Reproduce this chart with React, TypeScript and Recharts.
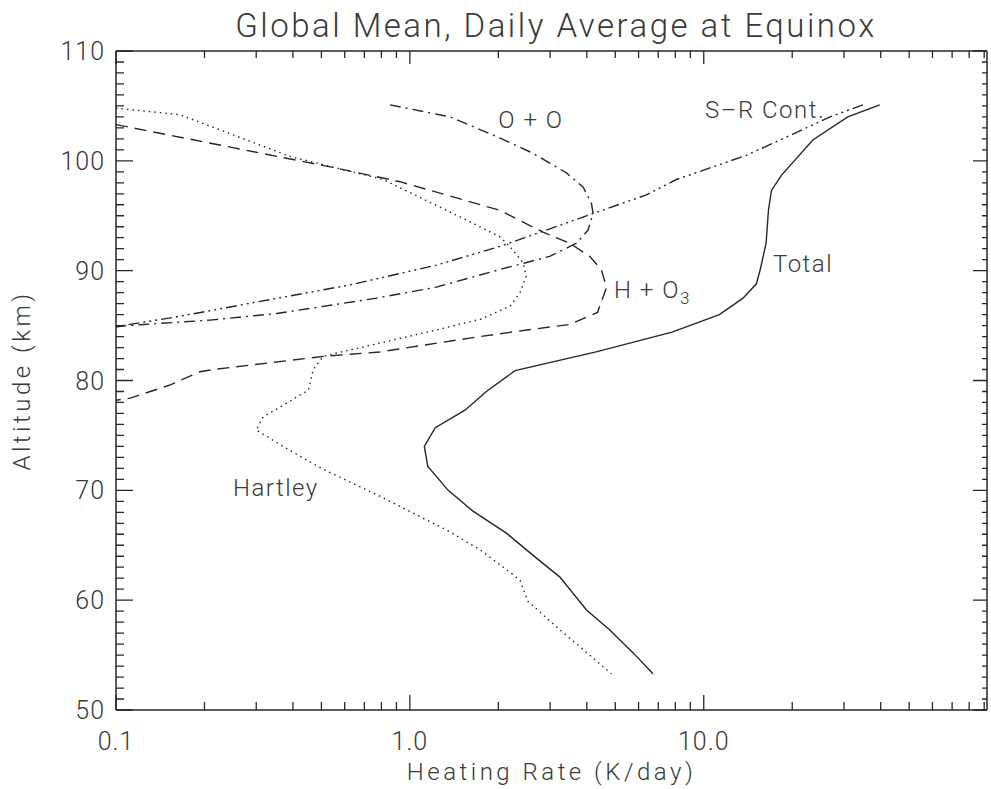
import React from 'react';
import { LineChart, Line, XAxis, YAxis, ReferenceDot } from 'recharts';

const INK = '#262626';
const TEXT = '#3a3a3a';
const FONT = 'Roboto, "DejaVu Sans", sans-serif';

const W = 991;
const H = 789;
const MARGIN = { top: 50, right: 3, left: 0, bottom: 0 };
const Y_AXIS_W = 116;
const X_AXIS_H = 79;
const PLOT_W = W - MARGIN.left - MARGIN.right - Y_AXIS_W - 1;
const PLOT_H = H - MARGIN.top - MARGIN.bottom - X_AXIS_H - 1;

// heating rate (K/day) vs altitude (km), traced top to bottom along each curve
const totalAlt = [105.1, 104.0, 101.9, 98.7, 97.3, 95.5, 92.5, 90.2, 88.8, 87.5, 86.0, 84.4, 82.6, 80.9, 79.0, 77.3, 75.7, 74.0, 72.2, 70.0, 68.1, 66.1, 64.1, 62.1, 59.1, 57.3, 55.2, 53.3];
const totalRate = [39.7, 30.9, 23.5, 18.4, 17.0, 16.6, 16.3, 15.6, 15.1, 13.6, 11.3, 7.8, 4.3, 2.28, 1.82, 1.54, 1.22, 1.12, 1.15, 1.35, 1.64, 2.13, 2.62, 3.24, 3.99, 4.78, 5.75, 6.72];

const hartleyAlt = [104.8, 104.2, 100.4, 98.3, 94.9, 93.1, 92.2, 90.7, 89.5, 88.0, 86.8, 85.6, 84.6, 83.4, 82.5, 82.2, 81.0, 79.1, 76.7, 75.5, 74.0, 72.0, 69.4, 66.4, 64.6, 62.3, 61.8, 59.9, 57.3, 53.3];
const hartleyRate = [0.1, 0.165, 0.391, 0.811, 1.48, 2.02, 2.19, 2.43, 2.49, 2.37, 2.2, 1.75, 1.23, 0.79, 0.564, 0.507, 0.469, 0.451, 0.317, 0.30, 0.37, 0.50, 0.80, 1.33, 1.73, 2.25, 2.37, 2.52, 3.24, 4.85];

const hO3Alt = [103.3, 101.2, 99.4, 98.1, 95.5, 93.5, 92.5, 91.3, 90.1, 88.5, 86.2, 85.1, 84.6, 84.0, 82.6, 82.2, 81.0, 80.8, 79.6, 78.4, 78.2];
const hO3Rate = [0.1, 0.25, 0.547, 0.925, 2.02, 2.84, 3.5, 4.09, 4.48, 4.67, 4.35, 3.5, 2.5, 1.73, 0.79, 0.51, 0.214, 0.193, 0.153, 0.112, 0.1];

const ooAlt = [105.1, 104.0, 102.1, 100.7, 98.9, 97.6, 96.1, 95.2, 93.7, 92.5, 91.3, 90.7, 90.1, 88.5, 87.5, 86.1, 85.5, 85.1, 84.9];
const ooRate = [0.855, 1.37, 2.02, 2.62, 3.41, 3.89, 4.15, 4.2, 4.04, 3.69, 2.99, 2.46, 2.02, 1.23, 0.77, 0.352, 0.209, 0.124, 0.1];

const srAlt = [105.1, 104.0, 101.9, 100.5, 98.3, 96.9, 95.2, 92.2, 90.5, 88.7, 87.2, 85.8, 84.9];
const srRate = [34.8, 26.9, 18.2, 13.96, 8.07, 6.38, 4.2, 2.02, 1.23, 0.625, 0.309, 0.161, 0.1];

const xTicks = [0.1, 0.2, 0.3, 0.4, 0.5, 0.6, 0.7, 0.8, 0.9, 1, 2, 3, 4, 5, 6, 7, 8, 9, 10, 20, 30, 40, 50, 60, 70, 80, 90];
const xMajor = [0.1, 1, 10];
const xLabels = ['0.1', '1.0', '10.0'];
const yMajor = [50, 60, 70, 80, 90, 100, 110];
const yTicks = Array.from({ length: 61 }, (_, i) => 50 + i);

const notes = [
  { text: 'O + O', rate: 2.0, alt: 103.0 },
  { text: 'S\u2013R Cont.', rate: 10.1, alt: 103.9 },
  { text: 'Total', rate: 17.2, alt: 89.9 },
  { text: 'H + O', sub: '3', rate: 4.95, alt: 87.5 },
  { text: 'Hartley', rate: 0.25, alt: 69.5 },
];

const toPoints = (rate: number[], alt: number[]) => rate.map((r, i) => ({ rate: r, alt: alt[i] }));

const series = [
  { name: 'Total', data: toPoints(totalRate, totalAlt), dash: undefined },
  { name: 'Hartley', data: toPoints(hartleyRate, hartleyAlt), dash: '1.5 4' },
  { name: 'H + O3', data: toPoints(hO3Rate, hO3Alt), dash: '12 7' },
  { name: 'O + O', data: toPoints(ooRate, ooAlt), dash: '11 5 2 5' },
  { name: 'S-R Cont.', data: toPoints(srRate, srAlt), dash: '11 4 2 4 2 4 2 4' },
];

const isMajorX = (v: number) => xMajor.some((m) => Math.abs(m - v) < 1e-9);
const tickText = { fontFamily: FONT, fontSize: 25, fontWeight: 300, fill: TEXT, letterSpacing: 1 } as const;

// bottom tick also draws its mirror on the top frame
const BottomTick = ({ x, y, payload }: any) => {
  const major = isMajorX(payload.value);
  const idx = xMajor.findIndex((m) => Math.abs(m - payload.value) < 1e-9);
  const top = y - PLOT_H;
  return (
    <g>
      <path d={`M${x},${y}V${y - (major ? 15 : 8)}M${x},${top}V${top + (major ? 13 : 7)}`} stroke={INK} strokeWidth={1.3} fill="none" />
      {major && (
        <text x={x} y={y + 40} textAnchor="middle" {...tickText}>
          {xLabels[idx]}
        </text>
      )}
    </g>
  );
};

// left tick also draws its mirror on the right frame
const LeftTick = ({ x, y, payload }: any) => {
  const major = yMajor.includes(payload.value);
  const right = x + PLOT_W;
  return (
    <g>
      <path d={`M${x},${y}H${x + (major ? 17 : 8)}M${right},${y}H${right - (major ? 14 : 5)}`} stroke={INK} strokeWidth={1.3} fill="none" />
      {major && (
        <text x={x - 11} y={y + 9} textAnchor="end" {...tickText}>
          {payload.value}
        </text>
      )}
    </g>
  );
};

const NoteLabel = (text: string, sub?: string) => (props: any) => {
  const { x, y } = props.viewBox;
  return (
    <text x={x} y={y} {...tickText} fontSize={24} letterSpacing={1.5}>
      {text}
      {sub && (
        <tspan dy={6} fontSize={17}>
          {sub}
        </tspan>
      )}
    </text>
  );
};

const axisLine = { stroke: INK, strokeWidth: 1.5 };

export default function App() {
  return (
    <div style={{ position: 'absolute', left: 0, top: 0, width: W, height: H, background: '#fff' }}>
      <svg width={W} height={50} style={{ position: 'absolute', left: 0, top: 0 }}>
        <text
          x={556}
          y={37}
          textAnchor="middle"
          fontFamily={FONT}
          fontSize={33}
          fontWeight={300}
          letterSpacing={2.5}
          fill={TEXT}
        >
          Global Mean, Daily Average at Equinox
        </text>
      </svg>
      <div style={{ position: 'absolute', left: 0, top: 0 }}>
        <LineChart width={W} height={H} margin={MARGIN}>
          <XAxis
            xAxisId={0}
            type="number"
            dataKey="rate"
            scale="log"
            domain={[0.1, 92]}
            allowDataOverflow
            ticks={xTicks}
            interval={0}
            tickSize={0}
            tickMargin={0}
            tickLine={false}
            tick={(p: any) => <BottomTick {...p} />}
            height={X_AXIS_H}
            axisLine={axisLine}
            label={{
              content: (p: any) => (
                <text
                  x={p.viewBox.x + p.viewBox.width / 2}
                  y={p.viewBox.y + 70}
                  textAnchor="middle"
                  {...tickText}
                  fontSize={24}
                  letterSpacing={3.5}
                >
                  Heating Rate (K/day)
                </text>
              ),
            }}
          />
          <XAxis
            xAxisId="top"
            orientation="top"
            type="number"
            dataKey="rate"
            scale="log"
            domain={[0.1, 92]}
            allowDataOverflow
            tick={false}
            tickLine={false}
            height={1}
            axisLine={axisLine}
          />
          <YAxis
            yAxisId={0}
            type="number"
            domain={[50, 110]}
            allowDataOverflow
            ticks={yTicks}
            interval={0}
            tickSize={0}
            tickMargin={0}
            tickLine={false}
            tick={(p: any) => <LeftTick {...p} />}
            width={Y_AXIS_W}
            axisLine={axisLine}
            label={{
              content: (p: any) => {
                const cx = p.viewBox.x + 30;
                const cy = p.viewBox.y + p.viewBox.height / 2;
                return (
                  <text
                    x={cx}
                    y={cy}
                    textAnchor="middle"
                    transform={`rotate(-90 ${cx} ${cy})`}
                    {...tickText}
                    fontSize={24}
                    letterSpacing={3.5}
                  >
                    Altitude (km)
                  </text>
                );
              },
            }}
          />
          <YAxis
            yAxisId="right"
            orientation="right"
            type="number"
            domain={[50, 110]}
            allowDataOverflow
            tick={false}
            tickLine={false}
            width={1}
            axisLine={axisLine}
          />
          {series.map((s) => (
            <Line
              key={s.name}
              data={s.data}
              dataKey="alt"
              name={s.name}
              type="linear"
              stroke={INK}
              strokeWidth={1.4}
              strokeDasharray={s.dash}
              dot={false}
              activeDot={false}
              isAnimationActive={false}
            />
          ))}
          {notes.map((n) => (
            <ReferenceDot
              key={n.text}
              x={n.rate}
              y={n.alt}
              r={0}
              fill="none"
              stroke="none"
              label={{ content: NoteLabel(n.text, n.sub) }}
            />
          ))}
        </LineChart>
      </div>
    </div>
  );
}
